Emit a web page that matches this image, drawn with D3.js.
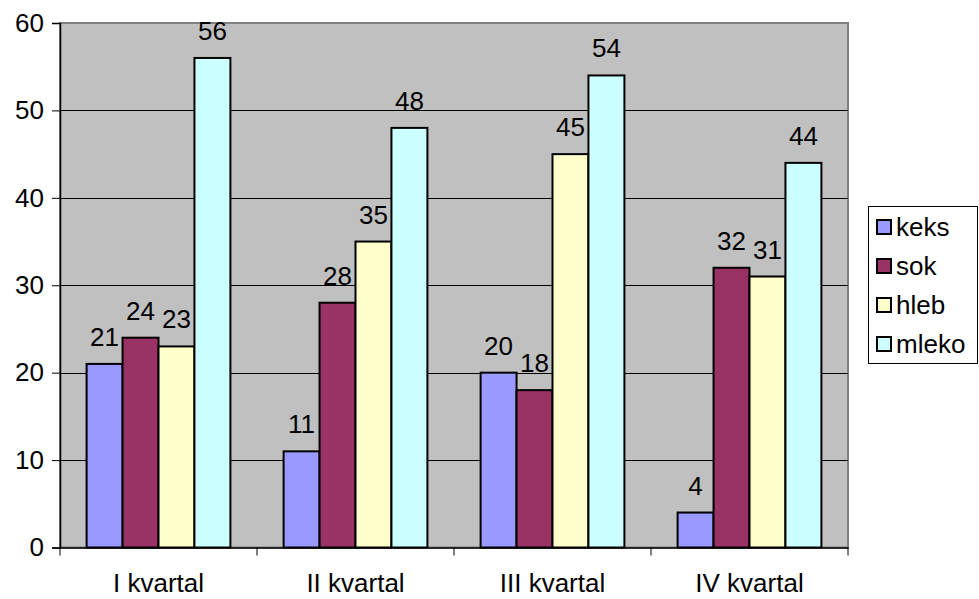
<!DOCTYPE html>
<html>
<head>
<meta charset="utf-8">
<script src="https://cdn.jsdelivr.net/npm/d3@7"></script>
<style>
  html, body { margin: 0; padding: 0; background: #fff; }
  svg { display: block; }
  text { font-family: "Liberation Sans", Arial, sans-serif; fill: #000; }
</style>
</head>
<body>
<svg id="chart" width="979" height="599"></svg>
<script>
// Quarterly sales per product
const categories = ["I kvartal", "II kvartal", "III kvartal", "IV kvartal"];
const seriesNames = ["keks", "sok", "hleb", "mleko"];
const keks  = [21, 11, 20, 4];
const sok   = [24, 28, 18, 32];
const hleb  = [23, 35, 45, 31];
const mleko = [56, 48, 54, 44];
const yTicks = [0, 10, 20, 30, 40, 50, 60];
const colors = ["#9999FF", "#993366", "#FFFFCC", "#CCFFFF"];

const seriesValues = [keks, sok, hleb, mleko];

const svg = d3.select("#chart");
const plot = { left: 60, right: 848, top: 23, bottom: 547.5 };
const fontSize = 26;
const fontFamily = "'Liberation Sans', Arial, sans-serif";

const x0 = d3.scaleBand().domain(categories).range([plot.left, plot.right]);
const x1 = d3.scaleBand().domain(seriesNames)
  .range([0, x0.bandwidth()]).paddingInner(0).paddingOuter(0.74);
const y = d3.scaleLinear().domain([0, 60]).range([plot.bottom, plot.top]);

// plot background
svg.append("rect")
  .attr("x", plot.left).attr("y", plot.top)
  .attr("width", plot.right - plot.left).attr("height", plot.bottom - plot.top)
  .attr("fill", "#C0C0C0").attr("stroke", "#808080").attr("stroke-width", 2);

// horizontal gridlines
svg.append("g").selectAll("line")
  .data(yTicks.filter(t => t > 0 && t < 60))
  .join("line")
  .attr("x1", plot.left).attr("x2", plot.right)
  .attr("y1", d => Math.round(y(d)) + 0.5).attr("y2", d => Math.round(y(d)) + 0.5)
  .attr("stroke", "#000").attr("stroke-width", 1);

// bars
const groups = svg.append("g").selectAll("g")
  .data(categories)
  .join("g")
  .attr("transform", d => `translate(${x0(d)},0)`);

const cells = (c, ci) => seriesNames.map((s, si) => ({ s, si, v: seriesValues[si][ci] }));

groups.selectAll("rect")
  .data(cells)
  .join("rect")
  .attr("x", d => x1(d.s))
  .attr("y", d => y(d.v))
  .attr("width", x1.bandwidth())
  .attr("height", d => y(0) - y(d.v))
  .attr("fill", d => colors[d.si])
  .attr("stroke", "#000").attr("stroke-width", 2);

// value labels
groups.selectAll("text")
  .data(cells)
  .join("text")
  .attr("x", d => x1(d.s) + x1.bandwidth() / 2)
  .attr("y", d => y(d.v) - 18)
  .attr("text-anchor", "middle")
  .style("font-size", fontSize + "px")
  .text(d => d.v);

// y axis
const yAxis = svg.append("g")
  .attr("transform", `translate(${plot.left},0)`)
  .call(d3.axisLeft(y).tickValues(yTicks).tickSize(8).tickPadding(8));
yAxis.select(".domain").attr("stroke", "#000").attr("stroke-width", 1.5);
yAxis.selectAll(".tick line").attr("stroke", "#000");
yAxis.selectAll(".tick text")
  .style("font-size", fontSize + "px")
  .style("font-family", fontFamily)
  .attr("fill", "#000");

// x axis
const xAxis = svg.append("g")
  .attr("transform", `translate(0,${plot.bottom})`)
  .call(d3.axisBottom(x0).tickSize(0).tickPadding(26));
xAxis.select(".domain").attr("stroke", "#000").attr("stroke-width", 1.5);
xAxis.selectAll(".tick text")
  .style("font-size", fontSize + "px")
  .style("font-family", fontFamily)
  .attr("fill", "#000");
// category separators
svg.append("g").selectAll("line")
  .data(d3.range(categories.length + 1))
  .join("line")
  .attr("x1", i => plot.left + i * x0.step())
  .attr("x2", i => plot.left + i * x0.step())
  .attr("y1", plot.bottom).attr("y2", plot.bottom + 8)
  .attr("stroke", "#000");

// legend
const legend = svg.append("g").attr("transform", "translate(868,206)");
legend.append("rect")
  .attr("x", 0.5).attr("y", 0.5)
  .attr("width", 109).attr("height", 157)
  .attr("fill", "#fff").attr("stroke", "#000").attr("stroke-width", 1);
const items = legend.selectAll("g.item")
  .data(seriesNames)
  .join("g").attr("class", "item")
  .attr("transform", (d, i) => `translate(0,${21 + i * 39})`);
items.append("rect")
  .attr("x", 9).attr("y", -7).attr("width", 14).attr("height", 14)
  .attr("fill", (d, i) => colors[i]).attr("stroke", "#000").attr("stroke-width", 2);
items.append("text")
  .attr("x", 28).attr("y", 9)
  .style("font-size", fontSize + "px")
  .text(d => d);
</script>
</body>
</html>
